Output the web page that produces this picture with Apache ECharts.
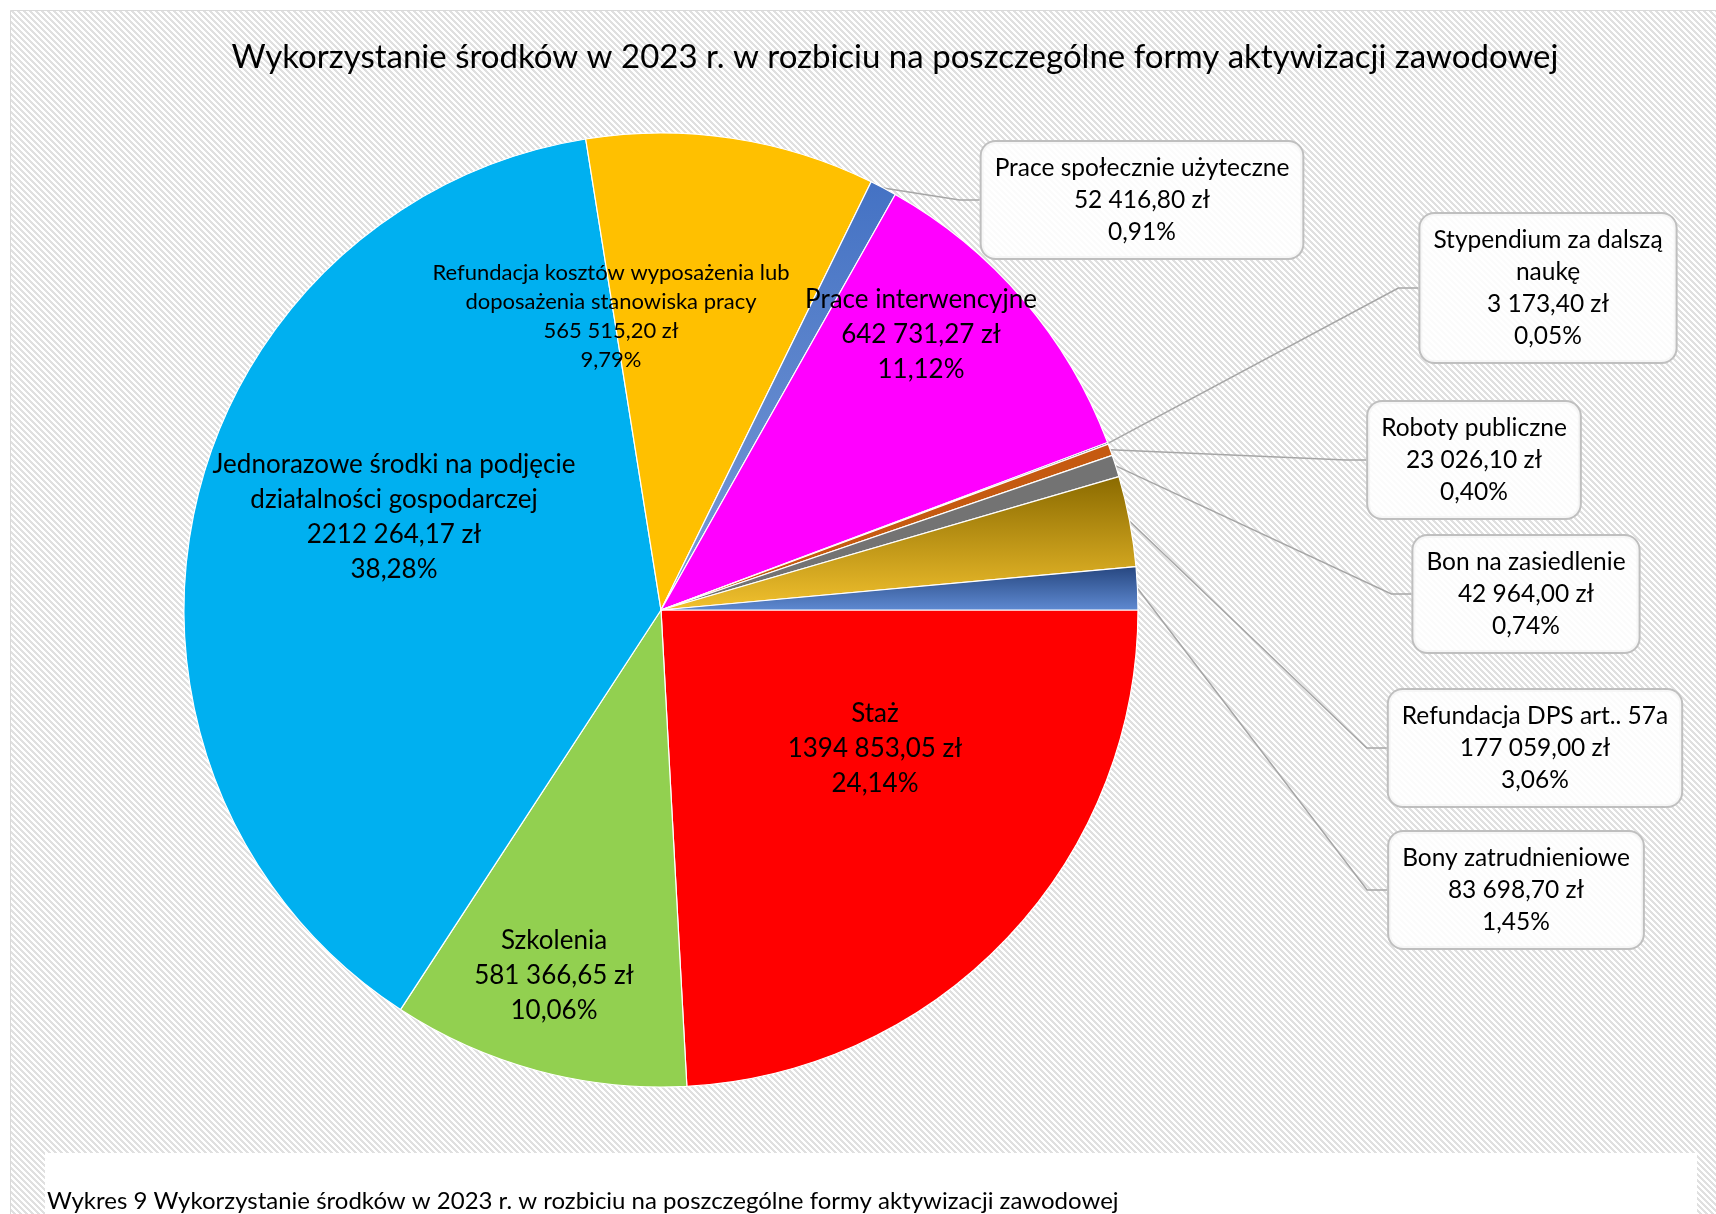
<!DOCTYPE html>
<html>
<head>
<meta charset="utf-8">
<script src="https://cdn.jsdelivr.net/npm/echarts@6/dist/echarts.min.js"></script>
<style>
  html, body { margin: 0; padding: 0; background: #fff; }
  #chart { width: 1716px; height: 1214px; }
</style>
</head>
<body>
<div id="chart"></div>
<script>
const FONT = 'Lato, "Noto Sans", sans-serif';

// data, clockwise from 3 o'clock
const names = [
  'Staż',
  'Szkolenia',
  'Jednorazowe środki na podjęcie\ndziałalności gospodarczej',
  'Refundacja kosztów wyposażenia lub\ndoposażenia stanowiska pracy',
  'Prace społecznie użyteczne',
  'Prace interwencyjne',
  'Stypendium za dalszą\nnaukę',
  'Roboty publiczne',
  'Bon na zasiedlenie',
  'Refundacja DPS art.. 57a',
  'Bony zatrudnieniowe'
];
const values = [1394853.05, 581366.65, 2212264.17, 565515.20, 52416.80, 642731.27, 3173.40, 23026.10, 42964.00, 177059.00, 83698.70];

// where each label sits (label centre, px)
const labelPos = [
  [875, 749], [554, 976], [394, 517], [611, 316], [1142, 200], [921, 335],
  [1548, 288], [1474, 460], [1526, 594], [1535, 748], [1516, 890]
];
const callout = [false, false, false, false, true, false, true, true, true, true, true];

const grad = (a, b) => new echarts.graphic.LinearGradient(0, 0, 0, 1, [
  { offset: 0, color: a }, { offset: 1, color: b }
]);
const colors = [
  '#ff0000', '#92d050', '#00b0f0', '#ffc000',
  grad('#4472c4', '#7a9bd6'), '#ff00ff', '#264478', '#c55a11', '#737373',
  grad('#8a6a00', '#f2c12e'), grad('#26467f', '#5f8ad2')
];

const fmtMoney = v => {
  const p = v.toFixed(2).split('.');
  let i = p[0];
  if (i.length > 3) i = i.slice(0, -3) + ' ' + i.slice(-3);
  return i + ',' + p[1] + ' zł';
};

// hatched background tile
const tile = document.createElement('canvas');
tile.width = 6; tile.height = 6;
const tc = tile.getContext('2d');
for (let y = 0; y < 6; y++) {
  for (let x = 0; x < 6; x++) {
    tc.fillStyle = ((x - y + 12) % 6) < 3 ? '#e0e0e0' : '#ffffff';
    tc.fillRect(x, y, 1, 1);
  }
}

const chart = echarts.init(document.getElementById('chart'));

const data = names.map((n, i) => {
  const item = { name: n, value: values[i], itemStyle: { color: colors[i] } };
  if (callout[i]) {
    item.label = {
      position: 'outside',
      fontSize: 24.5, lineHeight: 32,
      backgroundColor: 'rgba(255,255,255,0.85)',
      borderColor: '#bfbfbf', borderWidth: 2, borderRadius: 14,
      padding: [11, 13, 9, 13]
    };
    item.labelLine = { show: true };
  } else {
    item.label = { position: 'inside', fontSize: i === 3 ? 22 : 26, lineHeight: i === 3 ? 29 : 35 };
    item.labelLine = { show: false };
  }
  return item;
});

chart.setOption({
  backgroundColor: '#ffffff',
  animation: false,
  graphic: [
    { type: 'rect', shape: { x: 10.5, y: 10.5, width: 1720, height: 1220 }, style: { fill: { image: tile, repeat: 'repeat' }, stroke: '#d9d9d9', lineWidth: 1 }, z: -10 },
    { type: 'rect', shape: { x: 45, y: 1153, width: 1652, height: 70 }, style: { fill: '#ffffff' }, z: -9 },
    { type: 'text', x: 895, y: 57, style: { text: 'Wykorzystanie środków w 2023 r. w rozbiciu na poszczególne formy aktywizacji zawodowej', font: '33px ' + FONT, fill: '#000', align: 'center', verticalAlign: 'middle' } },
    { type: 'text', x: 47, y: 1201, style: { text: 'Wykres 9 Wykorzystanie środków w 2023 r. w rozbiciu na poszczególne formy aktywizacji zawodowej', font: '24px ' + FONT, fill: '#000', align: 'left', verticalAlign: 'middle' } }
  ],
  series: [{
    type: 'pie',
    center: [661, 610],
    radius: 477,
    startAngle: 0,
    clockwise: true,
    avoidLabelOverlap: false,
    itemStyle: { borderColor: '#ffffff', borderWidth: 1.2 },
    label: {
      color: '#000000', fontFamily: FONT, align: 'center',
      formatter: p => p.name + '\n' + fmtMoney(p.value) + '\n' + p.percent.toFixed(2).replace('.', ',') + '%'
    },
    labelLine: { lineStyle: { color: '#a6a6a6', width: 1.5 }, length: 20, length2: 20 },
    labelLayout: p => ({
      x: labelPos[p.dataIndex][0],
      y: labelPos[p.dataIndex][1],
      align: 'center',
      verticalAlign: 'middle'
    }),
    emphasis: { disabled: true },
    data: data
  }]
});
</script>
</body>
</html>
